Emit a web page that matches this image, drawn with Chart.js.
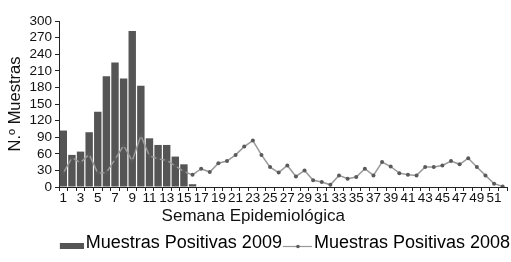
<!DOCTYPE html>
<html>
<head>
<meta charset="utf-8">
<script src="https://cdn.jsdelivr.net/npm/chart.js@4.4.0/dist/chart.umd.min.js"></script>
<style>
  html, body { margin: 0; padding: 0; background: #fff; }
  #wrap { width: 511px; height: 262px; }
</style>
</head>
<body>
<div id="wrap"><canvas id="chart" width="511" height="262"></canvas></div>
<script>
// weeks 1..52
const weeks = Array.from({ length: 52 }, (_, i) => String(i + 1));

// Muestras Positivas 2009 (bars)
const positives2009 = [102, 58, 64, 99, 136, 200, 225, 196, 282, 183,
    88, 76, 76, 55, 41, 5, 1];

// Muestras Positivas 2008 (line)
const positives2008 = [25, 53, 44, 59, 25, 26, 50, 75, 47, 93,
    56, 51, 48, 38, 28, 22, 33, 27, 43, 47,
    58, 73, 84, 58, 36, 26, 39, 19, 30, 12,
    9, 4, 21, 15, 18, 33, 21, 45, 37, 25,
    22, 21, 36, 36, 39, 47, 41, 52, 36, 21,
    6, 1];

const yTicks = [0, 30, 60, 90, 120, 150, 180, 210, 240, 270, 300];

const FONT = "'Liberation Sans', Arial, sans-serif";
const barColor = '#555555';
const lineColor = '#999999';
const pointColor = '#5a5a5a';

// legend swatches (left part of the image is blank so the swatch sits next to the text)
function makeSwatch(kind) {
    const c = document.createElement('canvas');
    c.width = 36;
    c.height = 14;
    const g = c.getContext('2d');
    if (kind === 'bar') {
        g.fillStyle = barColor;
        g.fillRect(12, 7, 24, 6);
    } else {
        g.strokeStyle = lineColor;
        g.lineWidth = 1.2;
        g.beginPath();
        g.moveTo(7, 10.5);
        g.lineTo(36, 10.5);
        g.stroke();
        g.fillStyle = pointColor;
        g.beginPath();
        g.arc(22, 10.5, 1.8, 0, Math.PI * 2);
        g.fill();
    }
    return c;
}
const swatches = [makeSwatch('bar'), makeSwatch('line')];

const ctx = document.getElementById('chart').getContext('2d');
new Chart(ctx, {
    type: 'bar',
    data: {
        labels: weeks,
        datasets: [
            {
                type: 'line',
                label: 'Muestras Positivas 2008',
                data: positives2008,
                borderColor: lineColor,
                borderWidth: 1.5,
                pointRadius: 2,
                pointBackgroundColor: pointColor,
                pointBorderWidth: 0,
                tension: 0,
                order: 0
            },
            {
                label: 'Muestras Positivas 2009',
                data: positives2009,
                backgroundColor: barColor,
                borderWidth: 0,
                barPercentage: 0.86,
                categoryPercentage: 1,
                order: 1
            }
        ]
    },
    options: {
        responsive: false,
        animation: false,
        events: [],
        layout: { padding: { top: 21, right: 0, left: 0, bottom: 0 } },
        plugins: {
            tooltip: { enabled: false },
            legend: {
                position: 'bottom',
                align: 'end',
                reverse: true,
                labels: {
                    usePointStyle: true,
                    pointStyleWidth: 22,
                    padding: 1,
                    color: '#111',
                    font: { family: FONT, size: 18, lineHeight: 1.15 },
                    generateLabels: (chart) => chart.data.datasets.map((ds, i) => ({
                        text: ds.label,
                        pointStyle: swatches[i === 1 ? 0 : 1],
                        fillStyle: 'transparent',
                        strokeStyle: 'transparent',
                        lineWidth: 0,
                        hidden: false,
                        datasetIndex: i
                    }))
                }
            }
        },
        scales: {
            x: {
                offset: true,
                grid: {
                    display: true,
                    drawOnChartArea: false,
                    drawTicks: true,
                    tickLength: 4,
                    color: '#222',
                    offset: true
                },
                border: { display: true, color: '#222', width: 1 },
                ticks: {
                    autoSkip: false,
                    maxRotation: 0,
                    minRotation: 0,
                    padding: 1,
                    color: '#111',
                    font: { family: FONT, size: 13.5, lineHeight: 1 },
                    callback: (v, i) => (i % 2 === 0 ? weeks[i] : '')
                },
                title: {
                    display: true,
                    text: 'Semana Epidemiológica\u2003\u2003\u2003\u2002',
                    color: '#111',
                    font: { family: FONT, size: 17, lineHeight: 1 },
                    padding: { top: 1, bottom: 8.5 }
                }
            },
            y: {
                min: 0,
                max: 300,
                afterBuildTicks: (scale) => {
                    scale.ticks = yTicks.map(v => ({ value: v }));
                },
                afterFit: (scale) => { scale.width = 59; },
                grid: {
                    display: true,
                    drawOnChartArea: false,
                    drawTicks: true,
                    tickLength: 4,
                    color: '#222'
                },
                border: { display: true, color: '#222', width: 1 },
                ticks: {
                    autoSkip: false,
                    padding: 3,
                    color: '#111',
                    font: { family: FONT, size: 13.5 }
                },
                title: {
                    display: true,
                    text: 'N.º Muestras',
                    color: '#111',
                    font: { family: FONT, size: 16.5, lineHeight: 1 },
                    padding: { top: 7, bottom: 0 }
                }
            }
        }
    }
});
</script>
</body>
</html>
